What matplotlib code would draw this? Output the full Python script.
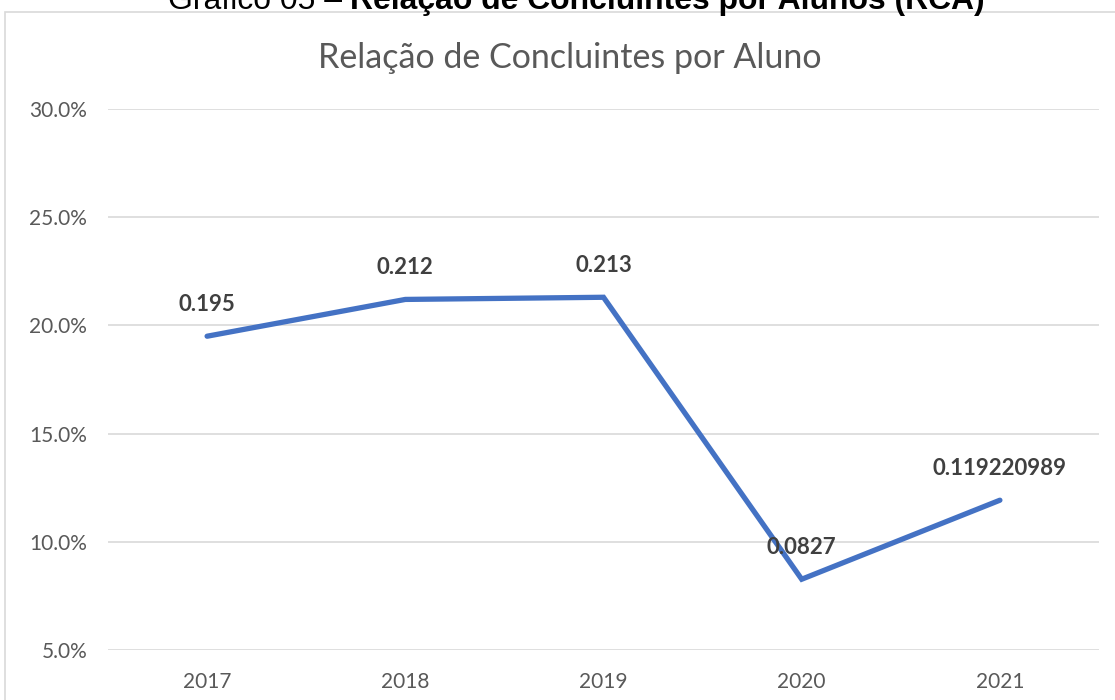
import matplotlib.pyplot as plt
from matplotlib.patches import Rectangle
from matplotlib.ticker import PercentFormatter

# data
years = ['2017', '2018', '2019', '2020', '2021']
rca = [0.195, 0.212, 0.213, 0.0827, 0.119220989]
labels = ['0.195', '0.212', '0.213', '0.0827', '0.119220989']

W, H = 1115, 700
fig = plt.figure(figsize=(W / 100, H / 100), dpi=100)
fig.patch.set_facecolor('white')

# chart frame (light grey border, runs off right and bottom)
fig.add_artist(Rectangle((5 / W, -0.05), 1.2, (H - 12) / H + 0.05,
                         transform=fig.transFigure, fill=False,
                         edgecolor='#d9d9d9', linewidth=1.2))

# caption above the chart, cut off at the top like in the source
cap_a = fig.text(168 / W, 1 - 9 / H, 'Gráfico 05 – ', ha='left', va='baseline',
                 fontsize=20, family='Liberation Sans', color='black')
cap_b = fig.text(985 / W, 1 - 9 / H, 'Relação de Concluintes por Alunos (RCA)',
                 ha='right', va='baseline', fontsize=20,
                 family='Liberation Sans', fontweight='bold', color='black')
# scale the bold part so it spans 350..985 px like the reference
r = fig.canvas.get_renderer()
wb = cap_b.get_window_extent(r).width
size = 20 * 635 / wb
cap_a.set_fontsize(size)
cap_b.set_fontsize(size)

ax = fig.add_axes([108 / W, 50 / H, 991 / W, 541 / H])
x = range(len(years))
ax.plot(x, rca, color='#4472C4', linewidth=3.8, solid_capstyle='round',
        solid_joinstyle='miter', zorder=3)

for xi, yi, lab in zip(x, rca, labels):
    ax.annotate(lab, (xi, yi), xytext=(0, 23), textcoords='offset points',
                ha='center', va='center', fontsize=16, fontweight='bold',
                family='Lato', color='#404040', zorder=4)

ax.set_xlim(-0.5, 4.5)
ax.set_ylim(0.05, 0.30)
ax.set_yticks([0.05, 0.10, 0.15, 0.20, 0.25, 0.30])
ax.yaxis.set_major_formatter(PercentFormatter(xmax=1, decimals=1))
ax.set_xticks(list(x))
ax.set_xticklabels(years)
ax.grid(axis='y', color='#d9d9d9', linewidth=1.2)
ax.set_axisbelow(True)
for s in ax.spines.values():
    s.set_visible(False)
ax.tick_params(length=0, labelsize=15, labelcolor='#595959')
ax.tick_params(axis='y', pad=15)
ax.tick_params(axis='x', pad=16)
for t in ax.get_xticklabels() + ax.get_yticklabels():
    t.set_family('Lato')

fig.text(570 / W, 1 - 58 / H, 'Relação de Concluintes por Aluno',
         ha='center', va='center', fontsize=24.5, family='Lato',
         color='#595959')

fig.savefig('out.png', dpi=100)
